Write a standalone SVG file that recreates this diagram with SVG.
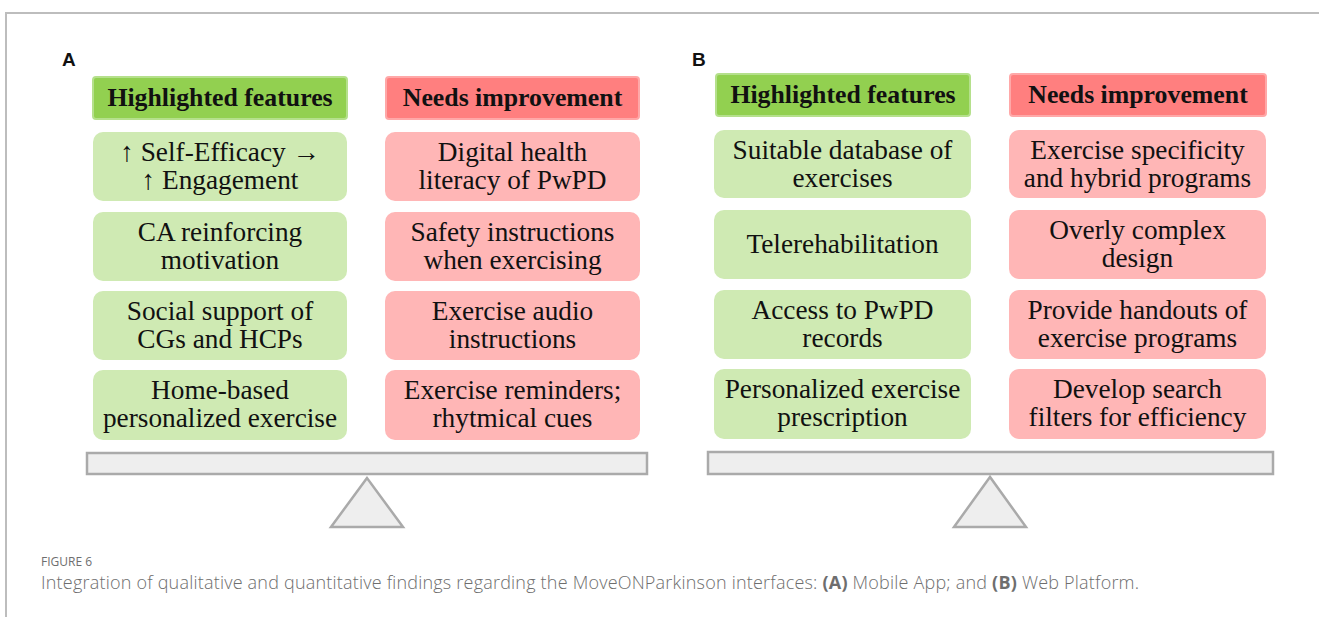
<svg xmlns="http://www.w3.org/2000/svg" width="1319" height="617" viewBox="0 0 1319 617">
<style>
.frame{stroke:#bdbdbd;stroke-width:2;fill:none}
.lbl{font-family:"Liberation Sans",Arial,sans-serif;font-weight:bold;font-size:19px;fill:#111}
.hg{fill:#92d050;stroke:#b5e08c;stroke-width:2}
.hr{fill:#ff7f7f;stroke:#ffa8a8;stroke-width:2}
.cg{fill:#cfeab3}
.cr{fill:#ffb6b6}
.ht{font-family:"Liberation Serif","Times New Roman",serif;font-weight:bold;font-size:25.8px;fill:#111;text-anchor:middle}
.t{font-family:"Liberation Serif","Times New Roman","DejaVu Serif",serif;font-size:27.3px;fill:#111;text-anchor:middle}
.beam{fill:#eeeeee;stroke:#aaaaaa;stroke-width:2.5}
.cap1{font-family:"Open Sans","Noto Sans",sans-serif;font-size:12px;fill:#6e6e6e}
.cap2{font-family:"Open Sans","Noto Sans",sans-serif;font-size:18px;font-weight:300;fill:#6e6e6e}
</style>
<rect width="1319" height="617" fill="#ffffff"/>
<g id="frame">
<path class="frame" d="M6,617 V13 H1319"/>
</g>
<g id="panelA">
<text class="lbl" x="62" y="66">A</text>
<g id="A-head-green"><rect class="hg" x="93" y="77" width="254" height="42" rx="3"/><text class="ht" x="220" y="106">Highlighted features</text></g>
<g id="A-head-red"><rect class="hr" x="386" y="77" width="253" height="42" rx="3"/><text class="ht" x="512.5" y="106">Needs improvement</text></g>
<g id="A-g1"><rect class="cg" x="93" y="132" width="254" height="69" rx="10"/><text class="t" x="220" y="161">↑ Self-Efficacy →</text><text class="t" x="220" y="189">↑ Engagement</text></g>
<g id="A-g2"><rect class="cg" x="93" y="212" width="254" height="69" rx="10"/><text class="t" x="220" y="241">CA reinforcing</text><text class="t" x="220" y="269">motivation</text></g>
<g id="A-g3"><rect class="cg" x="93" y="291" width="254" height="69" rx="10"/><text class="t" x="220" y="320">Social support of</text><text class="t" x="220" y="348">CGs and HCPs</text></g>
<g id="A-g4"><rect class="cg" x="93" y="370" width="254" height="70" rx="10"/><text class="t" x="220" y="399">Home-based</text><text class="t" x="220" y="427">personalized exercise</text></g>
<g id="A-r1"><rect class="cr" x="385" y="132" width="255" height="69" rx="10"/><text class="t" x="512.5" y="161">Digital health</text><text class="t" x="512.5" y="189">literacy of PwPD</text></g>
<g id="A-r2"><rect class="cr" x="385" y="212" width="255" height="69" rx="10"/><text class="t" x="512.5" y="241">Safety instructions</text><text class="t" x="512.5" y="269">when exercising</text></g>
<g id="A-r3"><rect class="cr" x="385" y="291" width="255" height="69" rx="10"/><text class="t" x="512.5" y="320">Exercise audio</text><text class="t" x="512.5" y="348">instructions</text></g>
<g id="A-r4"><rect class="cr" x="385" y="370" width="255" height="70" rx="10"/><text class="t" x="512.5" y="399">Exercise reminders;</text><text class="t" x="512.5" y="427">rhytmical cues</text></g>
<g id="A-scale"><rect class="beam" x="87" y="453" width="560" height="21"/><polygon class="beam" points="367,478 331,527 403,527"/></g>
</g>
<g id="panelB">
<text class="lbl" x="692" y="66">B</text>
<g id="B-head-green"><rect class="hg" x="716" y="74" width="254" height="42" rx="3"/><text class="ht" x="843" y="103">Highlighted features</text></g>
<g id="B-head-red"><rect class="hr" x="1010" y="74" width="256" height="42" rx="3"/><text class="ht" x="1138" y="103">Needs improvement</text></g>
<g id="B-g1"><rect class="cg" x="714" y="130" width="257" height="68" rx="10"/><text class="t" x="842.5" y="159">Suitable database of</text><text class="t" x="842.5" y="187">exercises</text></g>
<g id="B-g2"><rect class="cg" x="714" y="210" width="257" height="69" rx="10"/><text class="t" x="842.5" y="253">Telerehabilitation</text></g>
<g id="B-g3"><rect class="cg" x="714" y="290" width="257" height="69" rx="10"/><text class="t" x="842.5" y="319">Access to PwPD</text><text class="t" x="842.5" y="347">records</text></g>
<g id="B-g4"><rect class="cg" x="714" y="369" width="257" height="70" rx="10"/><text class="t" x="842.5" y="398">Personalized exercise</text><text class="t" x="842.5" y="426">prescription</text></g>
<g id="B-r1"><rect class="cr" x="1009" y="130" width="257" height="68" rx="10"/><text class="t" x="1137.5" y="159">Exercise specificity</text><text class="t" x="1137.5" y="187">and hybrid programs</text></g>
<g id="B-r2"><rect class="cr" x="1009" y="210" width="257" height="69" rx="10"/><text class="t" x="1137.5" y="239">Overly complex</text><text class="t" x="1137.5" y="267">design</text></g>
<g id="B-r3"><rect class="cr" x="1009" y="290" width="257" height="69" rx="10"/><text class="t" x="1137.5" y="319">Provide handouts of</text><text class="t" x="1137.5" y="347">exercise programs</text></g>
<g id="B-r4"><rect class="cr" x="1009" y="369" width="257" height="70" rx="10"/><text class="t" x="1137.5" y="398">Develop search</text><text class="t" x="1137.5" y="426">filters for efficiency</text></g>
<g id="B-scale"><rect class="beam" x="708" y="452" width="565" height="22"/><polygon class="beam" points="990,477 954,527 1026,527"/></g>
</g>
<g id="caption">
<text class="cap1" x="41" y="566">FIGURE 6</text>
<text class="cap2" x="41" y="589" textLength="1098" lengthAdjust="spacing">Integration of qualitative and quantitative findings regarding the MoveONParkinson interfaces: <tspan font-weight="bold">(A)</tspan> Mobile App; and <tspan font-weight="bold">(B)</tspan> Web Platform.</text>
</g>
</svg>
